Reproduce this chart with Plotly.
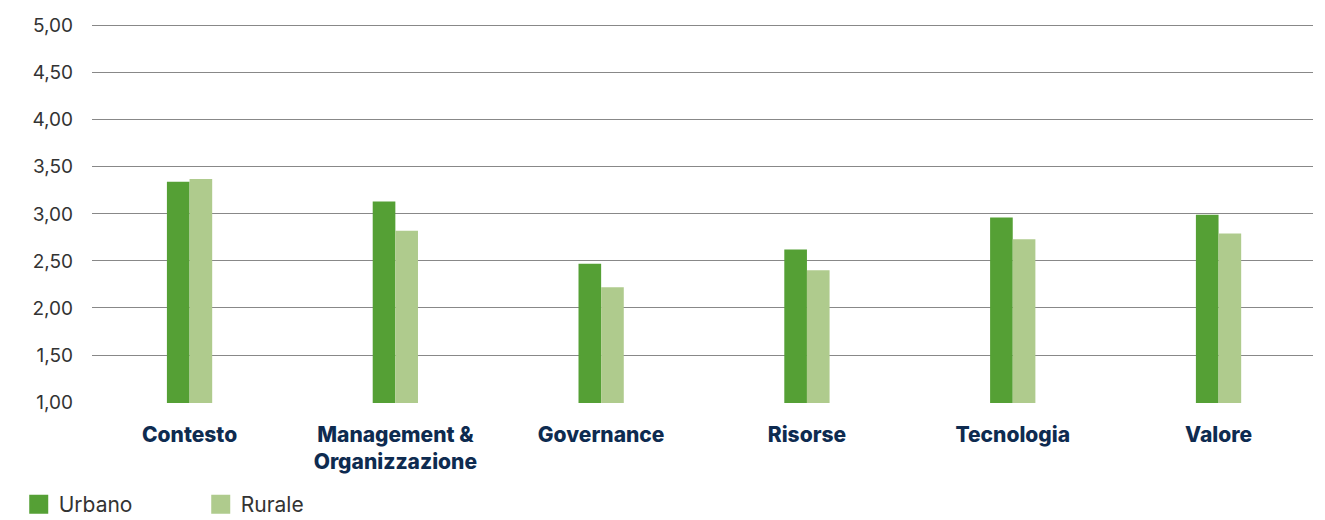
import plotly.graph_objects as go

categories = ["Contesto", "Management &<br>Organizzazione", "Governance", "Risorse", "Tecnologia", "Valore"]
urbano = [3.34, 3.13, 2.47, 2.62, 2.96, 2.99]
rurale = [3.37, 2.82, 2.22, 2.40, 2.73, 2.79]
y_ticks = [1.0, 1.5, 2.0, 2.5, 3.0, 3.5, 4.0, 4.5, 5.0]

c_urb = "#55A035"
c_rur = "#AFCB8D"

fig = go.Figure()
fig.add_trace(go.Bar(x=list(range(len(categories))), y=urbano, name="Urbano",
                     marker=dict(color=c_urb, line=dict(width=0)), showlegend=False))
fig.add_trace(go.Bar(x=list(range(len(categories))), y=rurale, name="Rurale",
                     marker=dict(color=c_rur, line=dict(width=0)), showlegend=False))
# legend entries
for name, col in [("Urbano", c_urb), ("Rurale", c_rur)]:
    fig.add_trace(go.Scatter(x=[None], y=[None], mode="markers", name=name,
                             marker=dict(symbol="square", size=16, color=col,
                                         line=dict(color=col, width=3))))

fig.update_layout(
    width=1325, height=520,
    margin=dict(l=92, r=12, t=20, b=117, autoexpand=False),
    paper_bgcolor="white", plot_bgcolor="white",
    barmode="group", bargap=0.78, bargroupgap=0,
    separators=",.",
    font=dict(family="Inter, Lato, sans-serif", color="#333333"),
    xaxis=dict(range=[-0.474, 5.459], tickmode="array",
               tickvals=list(range(len(categories))), ticktext=categories,
               tickfont=dict(family="Inter, Lato, sans-serif", size=21, color="#0E2B50", weight=800),
               showgrid=False, zeroline=False, showline=False, ticks="",
               ticklabelstandoff=17, automargin=False),
    yaxis=dict(range=[0.99, 5.06], tickmode="array", tickvals=y_ticks, tickformat=".2f",
               tickfont=dict(size=19, color="#333333"),
               showgrid=True, gridcolor="#888888", gridwidth=1.3,
               zeroline=False, showline=False, ticks="", ticklabelstandoff=18,
               automargin=False),
    legend=dict(orientation="h", x=-0.060, xanchor="left", y=-0.265, yanchor="middle",
                font=dict(size=21, color="#333333"), entrywidth=137, entrywidthmode="pixels",
                itemclick=False, itemdoubleclick=False),
)

fig.write_html("out.html", config={"displayModeBar": False},
               post_script="document.body.style.margin='0';document.body.style.overflow='hidden';")
